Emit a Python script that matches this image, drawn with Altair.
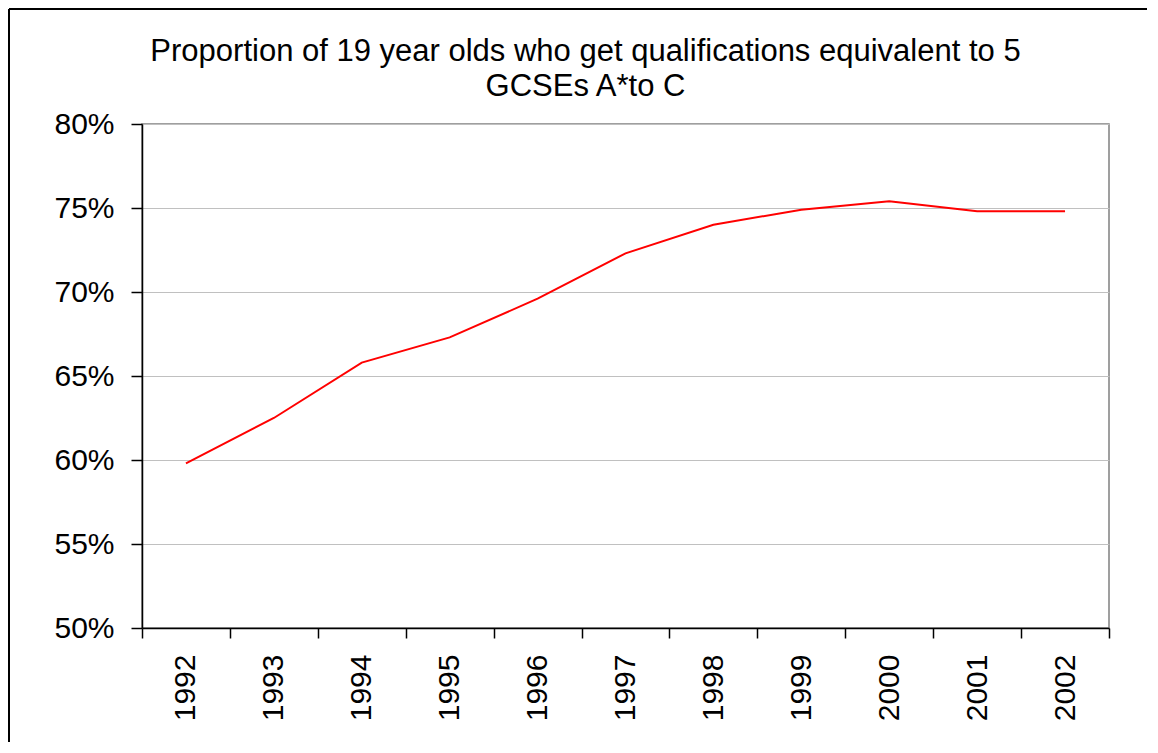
import altair as alt
import pandas as pd

years = ["1992", "1993", "1994", "1995", "1996", "1997", "1998", "1999", "2000", "2001", "2002"]
values = [59.8, 62.5, 65.8, 67.3, 69.6, 72.3, 74.0, 74.9, 75.4, 74.8, 74.8]
y_ticks = [0.50, 0.55, 0.60, 0.65, 0.70, 0.75, 0.80]
title_lines = ["Proportion of 19 year olds who get qualifications equivalent to 5", "GCSEs A*to C"]

df = pd.DataFrame({"year": years, "share": [v / 100 for v in values]})

FONT = "Liberation Sans"

line = alt.Chart(df).mark_line(color="#ff0000", strokeWidth=2).encode(
    x=alt.X(
        "year:O",
        sort=years,
        scale=alt.Scale(type="band", paddingInner=0, paddingOuter=0),
        axis=alt.Axis(
            title=None,
            labelAngle=270,
            labelFontSize=30,
            labelFont=FONT,
            labelColor="black",
            labelPadding=16,
            tickBand="extent",
            tickSize=10,
            tickColor="black",
            tickWidth=1.5,
            domainColor="black",
            domainWidth=1.5,
            grid=False,
        ),
    ),
    y=alt.Y(
        "share:Q",
        scale=alt.Scale(domain=[0.5, 0.8], nice=False, zero=False),
        axis=alt.Axis(
            title=None,
            values=y_ticks,
            format=".0%",
            labelFontSize=30,
            labelFont=FONT,
            labelColor="black",
            labelPadding=17,
            tickSize=11,
            tickColor="black",
            tickWidth=1.5,
            domainColor="black",
            domainWidth=1.5,
            grid=True,
            gridColor="#c0c0c0",
            gridWidth=1.2,
        ),
    ),
)

one = pd.DataFrame({"a": [0]})
border_left = alt.Chart(one).mark_rule(color="black", strokeWidth=2).encode(
    x=alt.value(-133), y=alt.value(-115), y2=alt.value(618)
)
border_top = alt.Chart(one).mark_rule(color="black", strokeWidth=2).encode(
    x=alt.value(-133), x2=alt.value(1005), y=alt.value(-115)
)

chart = (
    alt.layer(border_left, border_top, line)
    .properties(
        width=967,
        height=504,
        padding=0,
        background="white",
        title=alt.Title(
            title_lines,
            font=FONT,
            fontSize=31,
            fontWeight="normal",
            color="black",
            anchor="middle",
            dx=-40,
            offset=-95,
            lineHeight=35,
        ),
    )
    .configure_view(stroke="#808080", strokeWidth=1.5)
)

chart.save("out.html", embed_options={"renderer": "svg", "actions": False})
